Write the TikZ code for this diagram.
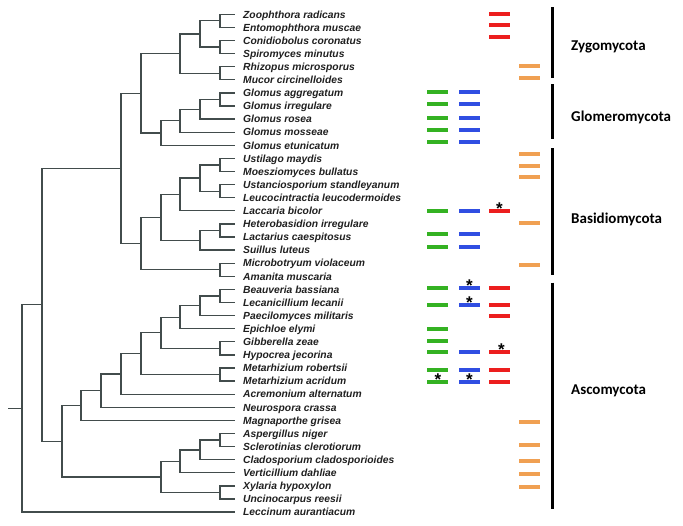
\documentclass[tikz,border=0pt]{standalone}
\usepackage{fontspec}
\setmainfont{Liberation Sans}
\newfontfamily\cladefont{Carlito}
\usetikzlibrary{positioning}

\definecolor{treegray}{RGB}{66,76,76}
\definecolor{hitgreen}{RGB}{52,178,34}
\definecolor{hitblue}{RGB}{48,78,226}
\definecolor{hitred}{RGB}{236,30,30}
\definecolor{hitorange}{RGB}{240,160,82}

\tikzset{
  branch/.style={draw=treegray, line width=1.25pt},
  taxon/.style={font=\fontsize{10.3}{12}\selectfont\bfseries\itshape, text=black!88,
    inner sep=0pt, text height=7.4pt, text depth=0pt},
  cladebar/.style={draw=black, line width=3pt},
  cladename/.style={font=\cladefont\fontsize{15}{18}\selectfont\bfseries, anchor=base west, inner sep=0pt},
  gbar/.style={draw=hitgreen, line width=4pt},
  bbar/.style={draw=hitblue, line width=4pt},
  rbar/.style={draw=hitred, line width=4pt},
  obar/.style={draw=hitorange, line width=4pt},
  hitstar/.style={font=\fontsize{17}{17}\selectfont\bfseries, inner sep=0pt, anchor=base},
}

% row i of the tree, in px from the top
\newcommand{\rowy}[1]{14.3+(#1-1)*13.1}

\begin{document}
\begin{tikzpicture}[x=1pt,y=-1pt]
\useasboundingbox (0,0) rectangle (683,525);

% leaves
\foreach \name [count=\i] in {Zoophthora radicans, Entomophthora muscae, Conidiobolus coronatus,
  Spiromyces minutus, Rhizopus microsporus, Mucor circinelloides, Glomus aggregatum,
  Glomus irregulare, Glomus rosea, Glomus mosseae, Glomus etunicatum, Ustilago maydis,
  Moesziomyces bullatus, Ustanciosporium standleyanum, Leucocintractia leucodermoides,
  Laccaria bicolor, Heterobasidion irregulare, Lactarius caespitosus, Suillus luteus,
  Microbotryum violaceum, Amanita muscaria, Beauveria bassiana, Lecanicillium lecanii,
  Paecilomyces militaris, Epichloe elymi, Gibberella zeae, Hypocrea jecorina,
  Metarhizium robertsii, Metarhizium acridum, Acremonium alternatum, Neurospora crassa,
  Magnaporthe grisea, Aspergillus niger, Sclerotinias clerotiorum,
  Cladosporium cladosporioides, Verticillium dahliae, Xylaria hypoxylon,
  Uncinocarpus reesii, Leccinum aurantiacum}
{
  \coordinate (l\i) at (235,{\rowy{\i}});
  \node[taxon, right=8pt of l\i] (t\i) {\name};
}

% inner nodes
\coordinate (zy1) at (220,{\rowy{1.5}});
\coordinate (zy2) at (220,{\rowy{3.5}});
\coordinate (zy3) at (200,{\rowy{2.5}});
\coordinate (zy4) at (220,{\rowy{5.5}});
\coordinate (zygo) at (180,{\rowy{4}});
\coordinate (gl1) at (220,{\rowy{7.5}});
\coordinate (gl2) at (200,{\rowy{8.25}});
\coordinate (gl3) at (180,{\rowy{9.125}});
\coordinate (glom) at (161,{\rowy{10.063}});
\coordinate (zg) at (141,{\rowy{7.031}});
\coordinate (ba1) at (220,{\rowy{12.5}});
\coordinate (ba2) at (220,{\rowy{14.5}});
\coordinate (ba3) at (200,{\rowy{13.5}});
\coordinate (ba4) at (180,{\rowy{14.75}});
\coordinate (ba5) at (220,{\rowy{17.5}});
\coordinate (ba6) at (200,{\rowy{18.25}});
\coordinate (ba7) at (161,{\rowy{16.5}});
\coordinate (ba8) at (220,{\rowy{20.5}});
\coordinate (basi) at (141,{\rowy{18.5}});
\coordinate (upper) at (121,{\rowy{12.766}});
\coordinate (as1) at (220,{\rowy{22.5}});
\coordinate (as2) at (200,{\rowy{23.25}});
\coordinate (as3) at (180,{\rowy{24.125}});
\coordinate (as4) at (220,{\rowy{26.5}});
\coordinate (as5) at (161,{\rowy{25.313}});
\coordinate (as6) at (220,{\rowy{28.5}});
\coordinate (as7) at (141,{\rowy{26.906}});
\coordinate (as8) at (121,{\rowy{28.453}});
\coordinate (as9) at (101,{\rowy{29.727}});
\coordinate (as10) at (81,{\rowy{30.863}});
\coordinate (as11) at (220,{\rowy{33.5}});
\coordinate (as12) at (200,{\rowy{34.25}});
\coordinate (as13) at (180,{\rowy{35.125}});
\coordinate (as14) at (220,{\rowy{37.5}});
\coordinate (as15) at (161,{\rowy{36.313}});
\coordinate (asco) at (62,{\rowy{33.588}});
\coordinate (fungi) at (42,{\rowy{23.177}});
\coordinate (root) at (22,{\rowy{31.088}});
\coordinate (stub) at (8,{\rowy{31.088}});

% branches
\foreach \p/\c in {zy1/l1, zy1/l2, zy2/l3, zy2/l4, zy3/zy1, zy3/zy2, zy4/l5, zy4/l6,
  zygo/zy3, zygo/zy4, gl1/l7, gl1/l8, gl2/gl1, gl2/l9, gl3/gl2, gl3/l10, glom/gl3,
  glom/l11, zg/zygo, zg/glom, ba1/l12, ba1/l13, ba2/l14, ba2/l15, ba3/ba1, ba3/ba2,
  ba4/ba3, ba4/l16, ba5/l17, ba5/l18, ba6/ba5, ba6/l19, ba7/ba4, ba7/ba6, ba8/l20,
  ba8/l21, basi/ba7, basi/ba8, upper/zg, upper/basi, as1/l22, as1/l23, as2/as1,
  as2/l24, as3/as2, as3/l25, as4/l26, as4/l27, as5/as3, as5/as4, as6/l28, as6/l29,
  as7/as5, as7/as6, as8/as7, as8/l30, as9/as8, as9/l31, as10/as9, as10/l32,
  as11/l33, as11/l34, as12/as11, as12/l35, as13/as12, as13/l36, as14/l37, as14/l38,
  as15/as13, as15/as14, asco/as10, asco/as15, fungi/upper, fungi/asco,
  root/fungi, root/l39}
  \draw[branch] (\p) |- (\c);
\draw[branch] (stub) -- (root);

% hits
\foreach \y in {91.7,103.7,117.7,130.3,142.3,211,234.3,246.7,288,305.3,329,340.7,352.3,369.7,381.7}
  \draw[gbar] (427,\y) -- (448,\y);
\foreach \y in {91.7,103.7,117.7,130.3,142.3,211,234.3,246.7,288,305.3,352.3,369.7,381.7}
  \draw[bbar] (459,\y) -- (480,\y);
\foreach \y in {14,25,36.7,211,288,305.3,316,352.3,369.7,381.7}
  \draw[rbar] (489,\y) -- (510,\y);
\foreach \y in {65.7,78.3,154,165.7,177.3,222.7,264.7,422.3,445.3,461.3,473.7,486.7}
  \draw[obar] (519,\y) -- (540,\y);

\node[hitstar] (s1) at (499.5,214.6) {*};
\node[hitstar] (s2) at (469.5,291.6) {*};
\node[hitstar] (s3) at (469.5,308.9) {*};
\node[hitstar] (s4) at (501.5,355.9) {*};
\node[hitstar] (s5) at (438,385.3) {*};
\node[hitstar] (s6) at (469.5,385.3) {*};

% phyla
\draw[cladebar] (552,7.3) -- (552,78.3);
\draw[cladebar] (552,84) -- (552,139.3);
\draw[cladebar] (552,148.3) -- (552,275);
\draw[cladebar] (552,282.7) -- (552,509.3);
\node[cladename] (zygomycota) at (571,50.5) {Zygomycota};
\node[cladename] (glomeromycota) at (571,121) {Glomeromycota};
\node[cladename] (basidiomycota) at (571,223.3) {Basidiomycota};
\node[cladename] (ascomycota) at (571,394.3) {Ascomycota};
\end{tikzpicture}
\end{document}
